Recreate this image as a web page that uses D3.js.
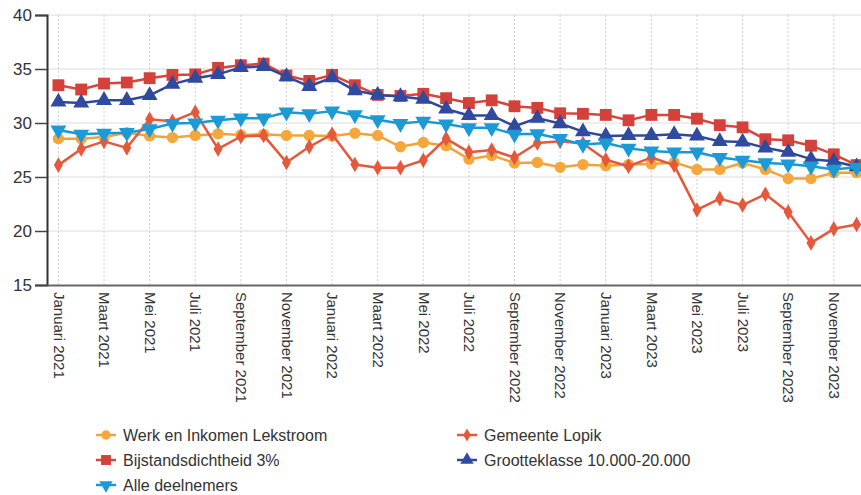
<!DOCTYPE html>
<html>
<head>
<meta charset="utf-8">
<script src="https://cdn.jsdelivr.net/npm/d3@7"></script>
<style>
  html, body { margin: 0; padding: 0; background: #fff; }
  svg { display: block; font-family: "Liberation Sans", Arial, sans-serif; }
</style>
</head>
<body>
<svg id="chart" width="861" height="495"></svg>
<script>
const months = [
  "Januari 2021","Februari 2021","Maart 2021","April 2021","Mei 2021","Juni 2021",
  "Juli 2021","Augustus 2021","September 2021","Oktober 2021","November 2021","December 2021",
  "Januari 2022","Februari 2022","Maart 2022","April 2022","Mei 2022","Juni 2022",
  "Juli 2022","Augustus 2022","September 2022","Oktober 2022","November 2022","December 2022",
  "Januari 2023","Februari 2023","Maart 2023","April 2023","Mei 2023","Juni 2023",
  "Juli 2023","Augustus 2023","September 2023","Oktober 2023","November 2023","December 2023"
];
const tickLabels = months.filter((d, i) => i % 2 === 0);
const yTicks = [15, 20, 25, 30, 35, 40];

const werkEnInkomen = [28.55,28.55,28.7,29.1,28.8,28.65,28.85,29.0,28.9,28.95,28.85,28.85,
  28.8,29.05,28.85,27.8,28.2,27.9,26.65,27.0,26.3,26.35,25.9,26.15,
  26.05,26.15,26.2,26.35,25.7,25.7,26.3,25.7,24.85,24.85,25.4,25.4];
const gemeenteLopik = [26.1,27.6,28.3,27.7,30.35,30.15,31.0,27.6,28.75,28.85,26.35,27.8,
  28.95,26.15,25.85,25.85,26.55,28.55,27.3,27.5,26.8,28.15,28.3,28.1,
  26.6,26.0,26.8,26.1,21.95,23.0,22.4,23.4,21.75,18.9,20.2,20.6];
const bijstandsdichtheid = [33.5,33.1,33.65,33.75,34.15,34.45,34.5,35.1,35.35,35.5,34.4,33.9,
  34.45,33.5,32.6,32.5,32.7,32.3,31.85,32.1,31.55,31.4,30.9,30.85,
  30.75,30.25,30.75,30.75,30.4,29.8,29.6,28.5,28.4,27.9,27.1,26.1];
const grootteklasse = [31.95,31.85,32.1,32.1,32.55,33.6,34.15,34.5,35.15,35.25,34.3,33.4,
  34.2,33.0,32.6,32.45,32.2,31.3,30.7,30.7,29.7,30.45,29.95,29.2,
  28.8,28.85,28.85,28.95,28.8,28.3,28.25,27.7,27.3,26.65,26.45,25.95];
const alleDeelnemers = [29.35,28.95,29.05,29.1,29.45,29.95,30.0,30.25,30.45,30.45,31.0,30.85,
  31.1,30.75,30.3,29.95,30.15,29.9,29.55,29.55,28.95,29.0,28.55,28.0,
  28.15,27.65,27.4,27.3,27.3,26.8,26.55,26.3,26.2,26.0,25.7,25.9];

const seriesNames = ["Werk en Inkomen Lekstroom","Gemeente Lopik","Bijstandsdichtheid 3%",
  "Grootteklasse 10.000-20.000","Alle deelnemers"];

const series = [
  { name: seriesNames[0], values: werkEnInkomen, line: "#f2a23a", fill: "#f4a73c", symbol: d3.symbolCircle, size: 100, rot: 0 },
  { name: seriesNames[1], values: gemeenteLopik, line: "#e5583a", fill: "#e5583a", symbol: d3.symbolDiamond, size: 70, rot: 0 },
  { name: seriesNames[2], values: bijstandsdichtheid, line: "#d8453c", fill: "#d4413a", symbol: d3.symbolSquare, size: 140, rot: 0 },
  { name: seriesNames[3], values: grootteklasse, line: "#31479a", fill: "#2f4a9e", symbol: d3.symbolTriangle, size: 110, rot: 0 },
  { name: seriesNames[4], values: alleDeelnemers, line: "#1b98d4", fill: "#1b9ad6", symbol: d3.symbolTriangle, size: 110, rot: 180 }
];

const svg = d3.select("#chart");
const mLeft = 47, mTop = 15, mBottom = 285, mRight = 868;

const x = d3.scalePoint().domain(months).range([mLeft, mRight]).padding(0.5);
const y = d3.scaleLinear().domain([15, 40]).range([mBottom, mTop]);

// grid
const grid = svg.append("g");
grid.selectAll("line.h").data(yTicks.filter(v => v > 15)).enter().append("line")
  .attr("x1", mLeft).attr("x2", 861).attr("y1", d => y(d)).attr("y2", d => y(d))
  .attr("stroke", "#dcdcdc").attr("stroke-width", 1);
grid.selectAll("line.v").data(tickLabels).enter().append("line")
  .attr("x1", d => x(d)).attr("x2", d => x(d)).attr("y1", mTop).attr("y2", mBottom)
  .attr("stroke", "#d0d0d0").attr("stroke-width", 1).attr("stroke-dasharray", "2,2");

// y axis
const yAxis = svg.append("g").attr("transform", `translate(${mLeft},0)`)
  .call(d3.axisLeft(y).tickValues(yTicks).tickSize(12).tickPadding(3));
yAxis.select(".domain").attr("stroke", "#333").attr("stroke-width", 2);
yAxis.selectAll(".tick line").attr("stroke", "#444").attr("stroke-width", 1.5);
yAxis.selectAll(".tick text").attr("font-size", 17).attr("fill", "#333")
  .attr("font-family", "Liberation Sans, Arial, sans-serif");

// x axis
const xAxis = svg.append("g").attr("transform", `translate(0,${mBottom})`)
  .call(d3.axisBottom(x).tickValues(tickLabels).tickSize(0).tickPadding(0));
xAxis.select(".domain").attr("stroke", "#666").attr("stroke-width", 2);
xAxis.selectAll(".tick text")
  .attr("font-size", 15).attr("fill", "#333")
  .attr("font-family", "Liberation Sans, Arial, sans-serif")
  .attr("text-anchor", "start")
  .attr("transform", "rotate(90)")
  .attr("x", 7).attr("y", 0).attr("dy", "0.35em");

// lines and markers
const lineGen = d3.line().x((d, i) => x(months[i])).y(d => y(d));
series.forEach(s => {
  const g = svg.append("g");
  g.append("path").datum(s.values).attr("d", lineGen)
    .attr("fill", "none").attr("stroke", s.line).attr("stroke-width", 2.5)
    .attr("stroke-linejoin", "round");
  g.selectAll("path.m").data(s.values).enter().append("path")
    .attr("d", d3.symbol().type(s.symbol).size(s.size))
    .attr("transform", (d, i) => `translate(${x(months[i])},${y(d)}) rotate(${s.rot})`)
    .attr("fill", s.fill);
});

// legend
const legendPos = [
  { x: 96, y: 435 }, { x: 457, y: 435 },
  { x: 96, y: 460 }, { x: 457, y: 460 },
  { x: 96, y: 485 }
];
series.forEach((s, i) => {
  const p = legendPos[i];
  const g = svg.append("g").attr("transform", `translate(${p.x},${p.y})`);
  g.append("line").attr("x1", 0).attr("x2", 20).attr("y1", 0).attr("y2", 0)
    .attr("stroke", s.line).attr("stroke-width", 2.5);
  g.append("path").attr("d", d3.symbol().type(s.symbol).size(s.size * 0.7))
    .attr("transform", `translate(10,0) rotate(${s.rot})`).attr("fill", s.fill);
  g.append("text").attr("x", 27).attr("y", 0).attr("dy", "0.35em")
    .attr("font-size", 16).attr("fill", "#333").text(s.name);
});
</script>
</body>
</html>
